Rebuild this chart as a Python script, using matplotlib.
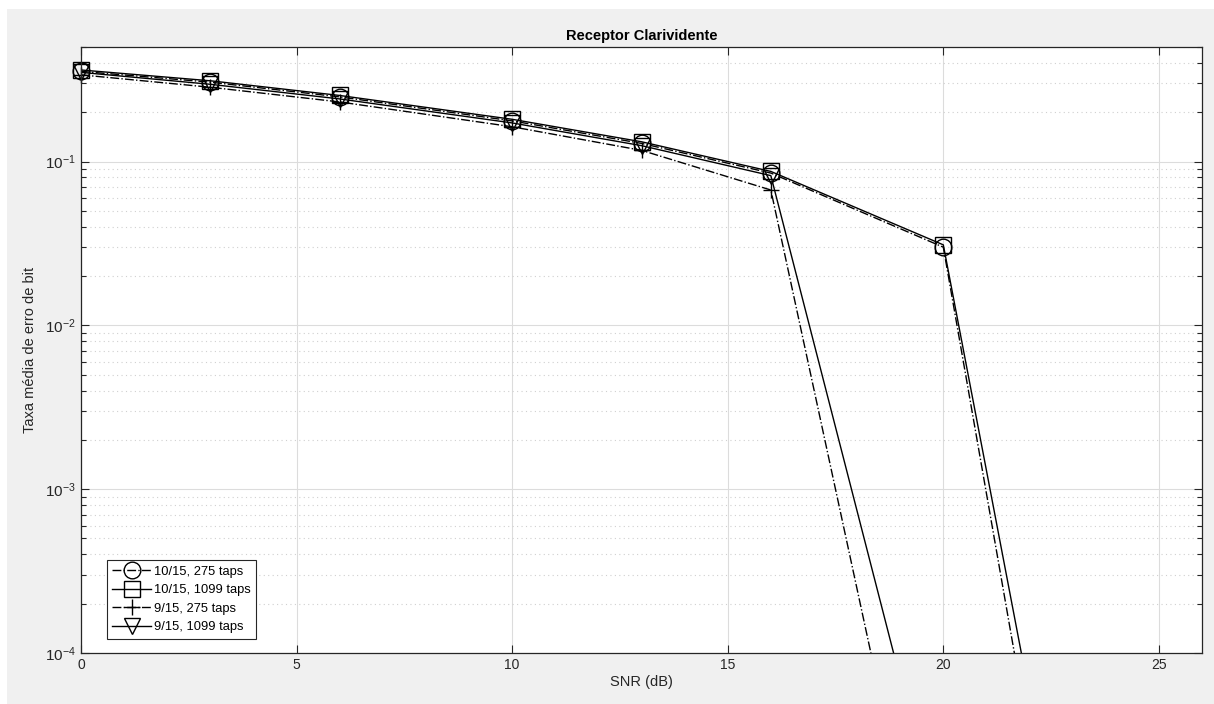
"""Receptor Clarividente - taxa média de erro de bit vs SNR."""

import matplotlib
matplotlib.use("Agg")
import matplotlib.pyplot as plt
from matplotlib.ticker import LogLocator, NullFormatter, MultipleLocator
from matplotlib.patches import Rectangle

plt.rcParams["font.family"] = ["Liberation Sans", "DejaVu Sans"]
plt.rcParams["mathtext.default"] = "regular"

# SNR (dB)
snr = [0, 3, 6, 10, 13, 16, 20, 23]

# taxa média de erro de bit por configuração
ber_10_275 = [0.355, 0.305, 0.248, 0.177, 0.129, 0.085, 0.030, 9.3e-7]
ber_10_1099 = [0.362, 0.311, 0.253, 0.181, 0.132, 0.087, 0.031, 2.3e-6]
ber_9_275 = [0.338, 0.284, 0.231, 0.163, 0.117, 0.067, 9e-7, 1e-8]
ber_9_1099 = [0.350, 0.296, 0.241, 0.172, 0.125, 0.082, 6.6e-6, 1e-8]

labels = ["10/15, 275 taps", "10/15, 1099 taps", "9/15, 275 taps", "9/15, 1099 taps"]

INK = "#262626"
YMIN, YMAX = 1e-4, 0.5

fig = plt.figure(figsize=(12.14, 7.04), dpi=100, facecolor="white")
fig.patches.append(Rectangle((7 / 1214, 0), 1, 1 - 9 / 704, transform=fig.transFigure,
                             facecolor="#f0f0f0", edgecolor="none", zorder=-10))
ax = fig.add_axes([81 / 1214, 1 - 653 / 704, (1202 - 81) / 1214, (653 - 47) / 704])

series = [(ber_10_275, "-.", "o"), (ber_10_1099, "-", "s"),
          (ber_9_275, "-.", "+"), (ber_9_1099, "-", "v")]
mstyle = dict(markersize=12, markerfacecolor="none", markeredgecolor="black",
              markeredgewidth=1.0)
for (ber, ls, mk), lab in zip(series, labels):
    # linha recortada pelos eixos, marcadores desenhados inteiros como no MATLAB
    ax.plot(snr, ber, ls, color="black", linewidth=1.0)
    pts = [(x, y) for x, y in zip(snr, ber) if YMIN <= y <= YMAX]
    ax.plot([p[0] for p in pts], [p[1] for p in pts], linestyle="none", marker=mk,
            clip_on=False, **mstyle)
    ax.plot([], [], ls, color="black", linewidth=1.0, marker=mk, label=lab, **mstyle)

ax.set_yscale("log")
ax.set_xlim(0, 26)
ax.set_ylim(YMIN, YMAX)
ax.xaxis.set_major_locator(MultipleLocator(5))
ax.yaxis.set_major_locator(LogLocator(base=10, numticks=10))
ax.yaxis.set_minor_locator(LogLocator(base=10, subs=range(2, 10), numticks=20))
ax.yaxis.set_minor_formatter(NullFormatter())

ax.grid(True, which="major", color="#dcdcdc", linewidth=0.8, linestyle="-")
ax.grid(True, which="minor", axis="y", color="#d0d0d0", linewidth=0.8, linestyle=(0, (1, 3)))
ax.set_axisbelow(True)

for s in ax.spines.values():
    s.set_color(INK)
    s.set_linewidth(0.9)
ax.tick_params(which="both", direction="in", top=True, right=True, colors=INK,
               labelsize=10, width=0.8)
ax.tick_params(axis="y", labelsize=11)
ax.tick_params(which="major", length=6)
ax.tick_params(which="minor", length=3.5)

ax.set_title("Receptor Clarividente", fontsize=10.5, fontweight="bold", color="black", pad=5)
ax.set_xlabel("SNR (dB)", fontsize=10.5, color=INK, labelpad=2)
ax.set_ylabel("Taxa média de erro de bit", fontsize=10.5, color=INK, labelpad=6)

leg = ax.legend(loc="lower left", bbox_to_anchor=(0.017, 0.012), fontsize=9.3,
                handlelength=3.0, handletextpad=0.2, labelspacing=0.5,
                borderpad=0.45, fancybox=False, framealpha=1, edgecolor=INK)
leg.get_frame().set_linewidth(0.8)

fig.savefig("out.png", dpi=100, facecolor=fig.get_facecolor())
